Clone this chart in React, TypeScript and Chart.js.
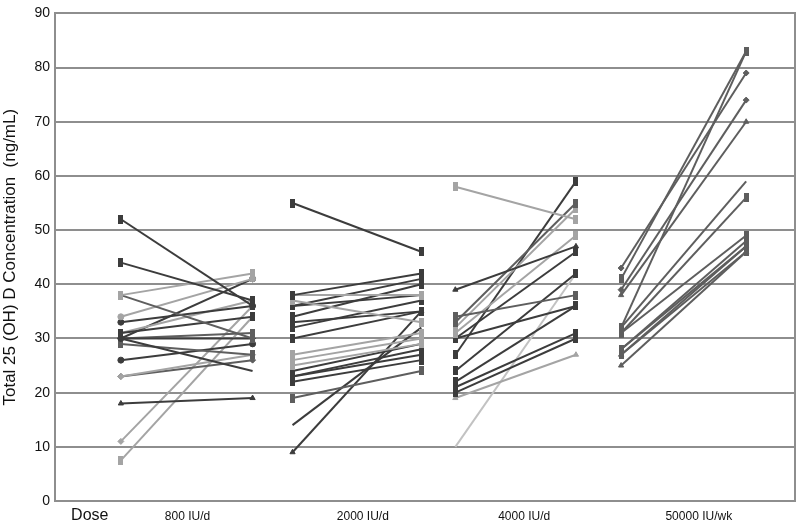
import React, { useEffect, useRef } from "react";
import { Chart, registerables } from "chart.js";

Chart.register(...registerables);

// ---- axis / category data ----
const doseLabels = ["Dose", "800 IU/d", "2000 IU/d", "4000 IU/d", "50000 IU/wk"];
const doseLabelX = [4.7, 17.9, 41.6, 63.4, 87.0];
// baseline / follow-up visit positions on the x axis, per dose group
const visitX = [
  [8.9, 26.7],
  [32.1, 49.5],
  [54.1, 70.4],
  [76.5, 93.4],
];

// ---- series values (ng/mL) ----
const d800Before = [52, 44, 38, 38, 34, 33, 31, 31, 30, 30, 30, 30, 29, 26, 23, 23, 18, 11, 7.5];
const d800After = [36, 37, 42, 30, 41, 36, 34, 37, 41, 30, 24, 31, 27, 29, 27, 26, 19, 36, 34];

const d2000Before = [55, 38, 38, 37, 36, 36, 34, 33, 32, 30, 27, 26, 25, 24, 23, 23, 22, 19, 14, 9];
const d2000After = [46, 42, 38, 33, 41, 38, 40, 35, 37, 35, 31, 30, 29, 29, 28, 27, 26, 24, 32, 35];

const d4000Before = [58, 39, 34, 33, 32, 31, 30, 30, 27, 24, 22, 21, 20, 19, 10];
const d4000After = [52, 47, 38, 55, 54, 49, 46, 36, 59, 42, 36, 31, 30, 27, 42];

const d50000Before = [43, 41, 39, 38, 32, 32, 31, 31, 28, 28, 27, 27, 25];
const d50000After = [79, 83, 74, 70, 83, 59, 49, 56, 48, 47, 47, 46, 46];

// ---- styles (separate from values) ----
const shadeColors: Record<string, string> = {
  d: "#3c3c3c",
  m: "#5e5e5e",
  l: "#a4a4a4",
  x: "#c2c2c2",
};
const d800Shade = ["d", "d", "l", "m", "l", "d", "d", "l", "d", "d", "d", "m", "m", "d", "l", "m", "d", "l", "l"];
const d800Shape = ["bar", "bar", "bar", "bar", "circle", "circle", "bar", "bar", "circle", "rectRot", "none", "bar", "bar", "circle", "rectRot", "rectRot", "triangle", "rectRot", "bar"];
const d2000Shade = ["d", "d", "l", "l", "d", "d", "d", "d", "d", "d", "l", "l", "l", "d", "d", "d", "d", "m", "d", "d"];
const d2000Shape = ["bar", "bar", "bar", "bar", "bar", "bar", "bar", "bar", "bar", "bar", "bar", "bar", "bar", "bar", "bar", "bar", "bar", "bar", "none", "triangle"];
const d4000Shade = ["l", "d", "m", "m", "l", "l", "d", "d", "d", "d", "d", "d", "d", "l", "x"];
const d4000Shape = ["bar", "triangle", "bar", "bar", "bar", "bar", "bar", "bar", "bar", "bar", "bar", "bar", "bar", "triangle", "none"];
const d50000Shade = ["m", "m", "m", "m", "m", "m", "m", "m", "m", "m", "m", "m", "m"];
const d50000Shape = ["rectRot", "bar", "rectRot", "triangle", "bar", "none", "bar", "bar", "bar", "bar", "triangle", "bar", "triangle"];

const groups = [
  { before: d800Before, after: d800After, shade: d800Shade, shape: d800Shape },
  { before: d2000Before, after: d2000After, shade: d2000Shade, shape: d2000Shape },
  { before: d4000Before, after: d4000After, shade: d4000Shade, shape: d4000Shape },
  { before: d50000Before, after: d50000After, shade: d50000Shade, shape: d50000Shape },
];

const FONT = "'Liberation Sans', Arial, sans-serif";
const GRID = "#8e8e8e";

const barCache: Record<string, HTMLCanvasElement> = {};
function barMarker(color: string): HTMLCanvasElement {
  if (barCache[color]) return barCache[color];
  const c = document.createElement("canvas");
  c.width = 5;
  c.height = 9;
  const ctx = c.getContext("2d")!;
  ctx.fillStyle = color;
  ctx.fillRect(0, 0, 5, 9);
  barCache[color] = c;
  return c;
}

export default function App() {
  const ref = useRef<HTMLCanvasElement | null>(null);

  useEffect(() => {
    document.body.style.margin = "0";
    const canvas = ref.current;
    if (!canvas) return;

    const datasets: any[] = [];
    groups.forEach((g, gi) => {
      g.before.forEach((b, i) => {
        const color = shadeColors[g.shade[i]];
        const shape = g.shape[i];
        let pointStyle: any = shape;
        if (shape === "none") pointStyle = false;
        if (shape === "bar") pointStyle = barMarker(color);
        datasets.push({
          data: [
            { x: visitX[gi][0], y: b },
            { x: visitX[gi][1], y: g.after[i] },
          ],
          borderColor: color,
          backgroundColor: color,
          borderWidth: 2,
          pointStyle,
          pointRadius: 3,
          pointBorderWidth: 1,
          pointBorderColor: color,
          pointBackgroundColor: color,
          showLine: true,
          fill: false,
          tension: 0,
        });
      });
    });

    const chart = new Chart(canvas, {
      type: "line",
      data: { datasets },
      options: {
        responsive: false,
        animation: false,
        events: [],
        layout: { padding: { top: 7, right: 4, left: 0, bottom: 0 } },
        plugins: {
          legend: { display: false },
          tooltip: { enabled: false },
        },
        scales: {
          x: {
            type: "linear",
            min: 0,
            max: 100,
            grid: { display: false, drawTicks: false },
            border: { display: false },
            afterBuildTicks: (scale: any) => {
              scale.ticks = doseLabelX.map((v) => ({ value: v }));
            },
            afterFit: (scale: any) => {
              scale.height = 22;
            },
            ticks: {
              autoSkip: false,
              maxRotation: 0,
              padding: 5,
              color: "#111",
              font: (ctx: any) =>
                ctx.index === 0
                  ? { family: FONT, size: 16, lineHeight: 1.2 }
                  : { family: FONT, size: 12, lineHeight: 1.7 },
              callback: (value: any) => {
                const idx = doseLabelX.indexOf(Number(value));
                return idx >= 0 ? doseLabels[idx] : "";
              },
            },
          },
          y: {
            type: "linear",
            min: 0,
            max: 90,
            afterFit: (scale: any) => {
              scale.width = 55;
            },
            ticks: {
              stepSize: 10,
              padding: 5,
              color: "#111",
              font: { family: FONT, size: 14 },
            },
            grid: { color: GRID, lineWidth: 2, drawTicks: false },
            border: { display: true, color: GRID, width: 2 },
            title: {
              display: true,
              text: "Total 25 (OH) D Concentration  (ng/mL)",
              color: "#111",
              font: { family: FONT, size: 17 },
              padding: { top: 0, bottom: 0 },
            },
          },
          yRight: {
            type: "linear",
            position: "right",
            min: 0,
            max: 90,
            ticks: { display: false },
            grid: { display: false, drawTicks: false },
            border: { display: true, color: GRID, width: 2 },
            afterFit: (scale: any) => {
              scale.width = 0;
            },
          },
        },
      },
    });

    return () => chart.destroy();
  }, []);

  return (
    <div style={{ width: 800, height: 523, background: "#fff" }}>
      <canvas ref={ref} width={800} height={523} style={{ display: "block" }} />
    </div>
  );
}
